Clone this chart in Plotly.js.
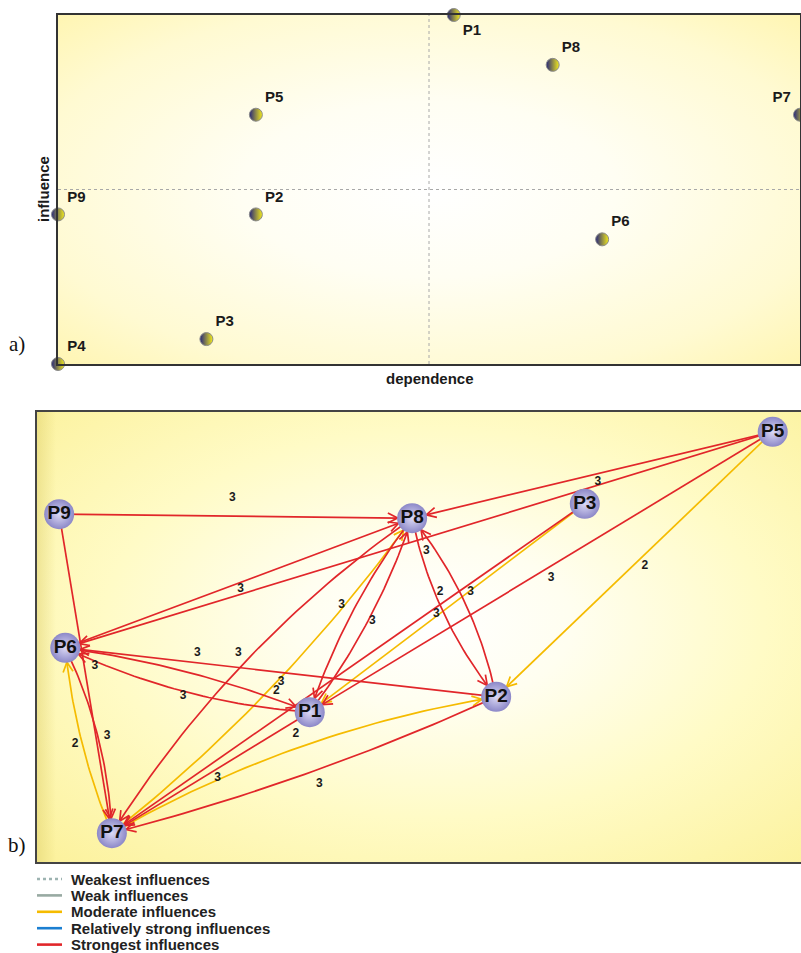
<!DOCTYPE html>
<html>
<head>
<meta charset="utf-8">
<script src="https://cdn.plot.ly/plotly-3.0.1.min.js"></script>
<style>html,body{margin:0;padding:0;background:#fff;overflow:hidden;}#chart{width:801px;height:953px;}</style>
</head>
<body>
<div id="chart"></div>
<script>
// ---------- DATA: panel a) influence / dependence map ----------
const factorNames = ["P1","P2","P3","P4","P5","P6","P7","P8","P9"];
const dependence  = [8, 4, 3, 0, 4, 11, 15, 10, 0];
const influence   = [14, 6, 1, 0, 10, 5, 10, 12, 6];

// ---------- DATA: panel b) influence graph ----------
const nodeNames = ["P1","P2","P3","P5","P6","P7","P8","P9"];
const nodeX     = [35.7, 60.1, 71.7, 96.3, 3.7, 9.8, 49.1, 2.9];
const nodeY     = [33.3, 36.7, 79.6, 95.6, 47.6, 6.4, 76.4, 77.3];

const edgeFrom  = ["P9","P9","P5","P5","P6","P8","P2","P1","P8","P7","P8","P3","P3","P5","P5","P2","P6","P1","P6","P7","P1","P7","P2"];
const edgeTo    = ["P8","P7","P8","P6","P8","P2","P8","P8","P1","P8","P7","P7","P1","P1","P2","P6","P1","P6","P7","P6","P7","P2","P7"];
const edgeLevel = ["strongest","strongest","strongest","strongest","strongest","strongest","strongest","strongest","strongest","moderate","strongest","strongest","moderate","strongest","moderate","strongest","strongest","strongest","strongest","moderate","strongest","moderate","strongest"];
const edgeLabel = ["3","3","3","3","","2","3","3","3","3","3","3","3","3","2","3","2","3","3","2","2","3","3"];

const legendKeys  = ["weakest","weak","moderate","relstrong","strongest"];
const legendNames = ["Weakest influences","Weak influences","Moderate influences","Relatively strong influences","Strongest influences"];

// ---------- drawing style (not data) ----------
const edgeBend  = [0,0,0,0,0,0.12,0.12,0.082,0.082,0.069,0.10,0,0,0,0,0,-0.06,-0.095,-0.105,-0.073,0,-0.09,-0.044];
const labelT    = [0.49,0.48,0.49,0.75,0.5,0.4,0.82,0.5,0.5,0.52,0.5,0.25,0.535,0.49,0.484,0.696,0.85,0.5,0.5,0.5,0.10,0.29,0.48];
const labelOff  = [-18,-10.5,-8,5,0,-5,-8,4,13,3,11,-7,2,-10,-8.5,10,-8.5,-5,-9,-7,-11.5,-2,-14];
const levelColor = {weakest:"#9db3b1", weak:"#98aaa2", moderate:"#f5bb00", relstrong:"#1b7fd1", strongest:"#e1262a"};
const levelDash  = {weakest:"dot", weak:"solid", moderate:"solid", relstrong:"solid", strongest:"solid"};

const W = 801, H = 953;
const topPx = {x0:58, x1:800, y0:15, y1:364};
const botPx = {x0:37, x1:801, y0:412, y1:862};
const legPx = {x0:37, x1:62, textX:69, y0:879, dy:16.4};
const FONT = "Liberation Sans, Arial, sans-serif";

function toPx(ux, uy){ return [botPx.x0 + ux/100*(botPx.x1-botPx.x0), botPx.y1 - uy/100*(botPx.y1-botPx.y0)]; }
function toData(px, py){ return [(px-botPx.x0)/(botPx.x1-botPx.x0)*100, (botPx.y1-py)/(botPx.y1-botPx.y0)*100]; }

const NODE_R = 14.5;
function bez(A,C,B,t){ const s=1-t; return [s*s*A[0]+2*s*t*C[0]+t*t*B[0], s*s*A[1]+2*s*t*C[1]+t*t*B[1]]; }
function dbez(A,C,B,t){ return [2*(1-t)*(C[0]-A[0])+2*t*(B[0]-C[0]), 2*(1-t)*(C[1]-A[1])+2*t*(B[1]-C[1])]; }

const curves = {moderate:{x:[],y:[]}, strongest:{x:[],y:[]}};
const lab = {x:[], y:[], t:[]};
edgeFrom.forEach((f,i)=>{
  const ia = nodeNames.indexOf(f), ib = nodeNames.indexOf(edgeTo[i]);
  const A = toPx(nodeX[ia], nodeY[ia]), B = toPx(nodeX[ib], nodeY[ib]);
  const dx = B[0]-A[0], dy = B[1]-A[1], L = Math.hypot(dx,dy);
  const n = [-dy/L, dx/L];
  const M = [(A[0]+B[0])/2, (A[1]+B[1])/2];
  const C = [M[0]+edgeBend[i]*L*n[0], M[1]+edgeBend[i]*L*n[1]];
  let lo=0, hi=1;
  for(let k=0;k<40;k++){ const m=(lo+hi)/2; const p=bez(A,C,B,m); if(Math.hypot(p[0]-B[0],p[1]-B[1])>NODE_R) lo=m; else hi=m; }
  const tTip = lo;
  const tr = curves[edgeLevel[i]];
  const N = 40;
  for(let k=0;k<=N;k++){ const p=bez(A,C,B,k/N*tTip); const d=toData(p[0],p[1]); tr.x.push(d[0]); tr.y.push(d[1]); }
  tr.x.push(null); tr.y.push(null);
  const tip = bez(A,C,B,tTip); const dv = dbez(A,C,B,tTip); const dl = Math.hypot(dv[0],dv[1]);
  const u = [dv[0]/dl, dv[1]/dl]; const w = 11, th = 27*Math.PI/180;
  const wing = s => { const c=Math.cos(s*th), sn=Math.sin(s*th); return [tip[0]-w*(u[0]*c-u[1]*sn), tip[1]-w*(u[0]*sn+u[1]*c)]; };
  [wing(1), tip, wing(-1)].forEach(p=>{ const d=toData(p[0],p[1]); tr.x.push(d[0]); tr.y.push(d[1]); });
  tr.x.push(null); tr.y.push(null);
  if(edgeLabel[i]){
    const p = bez(A,C,B,labelT[i]);
    const d = toData(p[0]+labelOff[i]*n[0], p[1]+labelOff[i]*n[1]);
    lab.x.push(d[0]); lab.y.push(d[1]); lab.t.push(edgeLabel[i]);
  }
});

const traces = [];
traces.push({
  type:"scatter", mode:"markers+text", x:dependence, y:influence, text:factorNames,
  textposition: factorNames.map(n => n==="P1" ? "bottom right" : (n==="P7" ? "top left" : "top right")),
  textfont:{family:FONT, size:15, color:"#1a1a1a", weight:"bold"},
  marker:{size:13, color:"#26267a", gradient:{type:"horizontal", color:"#f4ec1a"}, line:{color:"#8a8a8a", width:1}},
  cliponaxis:false, hoverinfo:"text", xaxis:"x", yaxis:"y"
});
traces.push({type:"scatter", mode:"lines", x:curves.moderate.x, y:curves.moderate.y, name:legendNames[2], line:{color:levelColor.moderate, width:1.7}, xaxis:"x2", yaxis:"y2", hoverinfo:"skip"});
traces.push({type:"scatter", mode:"lines", x:curves.strongest.x, y:curves.strongest.y, name:legendNames[4], line:{color:levelColor.strongest, width:1.7}, xaxis:"x2", yaxis:"y2", hoverinfo:"skip"});
traces.push({type:"scatter", mode:"text", x:lab.x, y:lab.y, text:lab.t, textfont:{family:FONT, size:12, color:"#1a1a1a", weight:"bold"}, xaxis:"x2", yaxis:"y2", hoverinfo:"skip", cliponaxis:false});
traces.push({type:"scatter", mode:"markers+text", x:nodeX, y:nodeY, text:nodeNames, textposition:"middle center",
  textfont:{family:FONT, size:19, color:"#111", weight:"bold"},
  marker:{size:30, color:"#8c88c8", gradient:{type:"radial", color:"#dcdaf5"}, line:{width:0}},
  xaxis:"x2", yaxis:"y2", cliponaxis:false});

function svgURI(svg){ return "data:image/svg+xml;charset=utf-8," + encodeURIComponent(svg); }
const topBg = svgURI('<svg xmlns="http://www.w3.org/2000/svg" width="742" height="349" viewBox="0 0 100 100" preserveAspectRatio="none"><defs><radialGradient id="g" cx="0.5" cy="0.5" r="0.72"><stop offset="0" stop-color="#ffffff"/><stop offset="0.35" stop-color="#fffef3"/><stop offset="0.75" stop-color="#fffad2"/><stop offset="1" stop-color="#fff5b0"/></radialGradient></defs><rect width="100" height="100" fill="url(#g)"/></svg>');
const botBg = svgURI('<svg xmlns="http://www.w3.org/2000/svg" width="764" height="450" viewBox="0 0 100 100" preserveAspectRatio="none"><defs><radialGradient id="g" cx="0.52" cy="0.47" r="0.72"><stop offset="0" stop-color="#ffffff"/><stop offset="0.25" stop-color="#fffef0"/><stop offset="0.6" stop-color="#fffbc6"/><stop offset="1" stop-color="#fcf29e"/></radialGradient><linearGradient id="l" x1="0" y1="0" x2="1" y2="0"><stop offset="0" stop-color="#d8c860" stop-opacity="0.4"/><stop offset="0.025" stop-color="#d8c860" stop-opacity="0"/></linearGradient></defs><rect width="100" height="100" fill="url(#g)"/><rect width="100" height="100" fill="url(#l)"/></svg>');

const shapes = [
  {type:"line", xref:"x", yref:"paper", x0:7.5, x1:7.5, y0:(H-topPx.y1)/H, y1:(H-topPx.y0)/H, line:{color:"#a8a8a8", width:1, dash:"dot"}, layer:"below"},
  {type:"line", xref:"paper", yref:"y", x0:topPx.x0/W, x1:topPx.x1/W, y0:7, y1:7, line:{color:"#a8a8a8", width:1, dash:"dot"}, layer:"below"}
];
const annotations = [
  {text:"influence", xref:"paper", yref:"paper", x:43/W, y:(H-189)/H, xanchor:"center", yanchor:"middle", textangle:-90, showarrow:false, font:{family:FONT, size:15, color:"#1a1a1a", weight:"bold"}},
  {text:"dependence", xref:"paper", yref:"paper", x:430/W, y:(H-378)/H, xanchor:"center", yanchor:"middle", showarrow:false, font:{family:FONT, size:15, color:"#1a1a1a", weight:"bold"}},
  {text:"a)", xref:"paper", yref:"paper", x:17/W, y:(H-344)/H, xanchor:"center", yanchor:"middle", showarrow:false, font:{family:"Liberation Serif, Times New Roman, serif", size:21, color:"#111"}},
  {text:"b)", xref:"paper", yref:"paper", x:17/W, y:(H-845)/H, xanchor:"center", yanchor:"middle", showarrow:false, font:{family:"Liberation Serif, Times New Roman, serif", size:21, color:"#111"}}
];
legendKeys.forEach((k,i)=>{
  const yy = (H-(legPx.y0 + i*legPx.dy))/H;
  shapes.push({type:"line", xref:"paper", yref:"paper", x0:legPx.x0/W, x1:legPx.x1/W, y0:yy, y1:yy, line:{color:levelColor[k], width:2.6, dash:levelDash[k]}});
  annotations.push({text:legendNames[i], xref:"paper", yref:"paper", x:legPx.textX/W, y:yy, xanchor:"left", yanchor:"middle", showarrow:false, font:{family:FONT, size:15, color:"#222", weight:"bold"}});
});

const axBase = {showgrid:false, zeroline:false, showticklabels:false, ticks:"", showline:true, mirror:true, linecolor:"#333", linewidth:2, fixedrange:true};
const layout = {
  width:W, height:H, margin:{l:0,r:0,t:0,b:0}, paper_bgcolor:"#fff", plot_bgcolor:"rgba(0,0,0,0)",
  font:{family:FONT}, showlegend:false, hovermode:"closest",
  xaxis:Object.assign({}, axBase, {domain:[topPx.x0/W, topPx.x1/W], range:[0,15], anchor:"y"}),
  yaxis:Object.assign({}, axBase, {domain:[(H-topPx.y1)/H, (H-topPx.y0)/H], range:[0,14], anchor:"x"}),
  xaxis2:Object.assign({}, axBase, {domain:[botPx.x0/W, botPx.x1/W], range:[0,100], anchor:"y2", linecolor:"#444"}),
  yaxis2:Object.assign({}, axBase, {domain:[(H-botPx.y1)/H, (H-botPx.y0)/H], range:[0,100], anchor:"x2", linecolor:"#444"}),
  shapes:shapes,
  images:[
    {source:topBg, xref:"paper", yref:"paper", x:topPx.x0/W, y:(H-topPx.y0)/H, sizex:(topPx.x1-topPx.x0)/W, sizey:(topPx.y1-topPx.y0)/H, xanchor:"left", yanchor:"top", sizing:"stretch", layer:"below"},
    {source:botBg, xref:"paper", yref:"paper", x:botPx.x0/W, y:(H-botPx.y0)/H, sizex:(botPx.x1-botPx.x0)/W, sizey:(botPx.y1-botPx.y0)/H, xanchor:"left", yanchor:"top", sizing:"stretch", layer:"below"}
  ],
  annotations:annotations
};
Plotly.newPlot("chart", traces, layout, {displayModeBar:false});
</script>
</body>
</html>
